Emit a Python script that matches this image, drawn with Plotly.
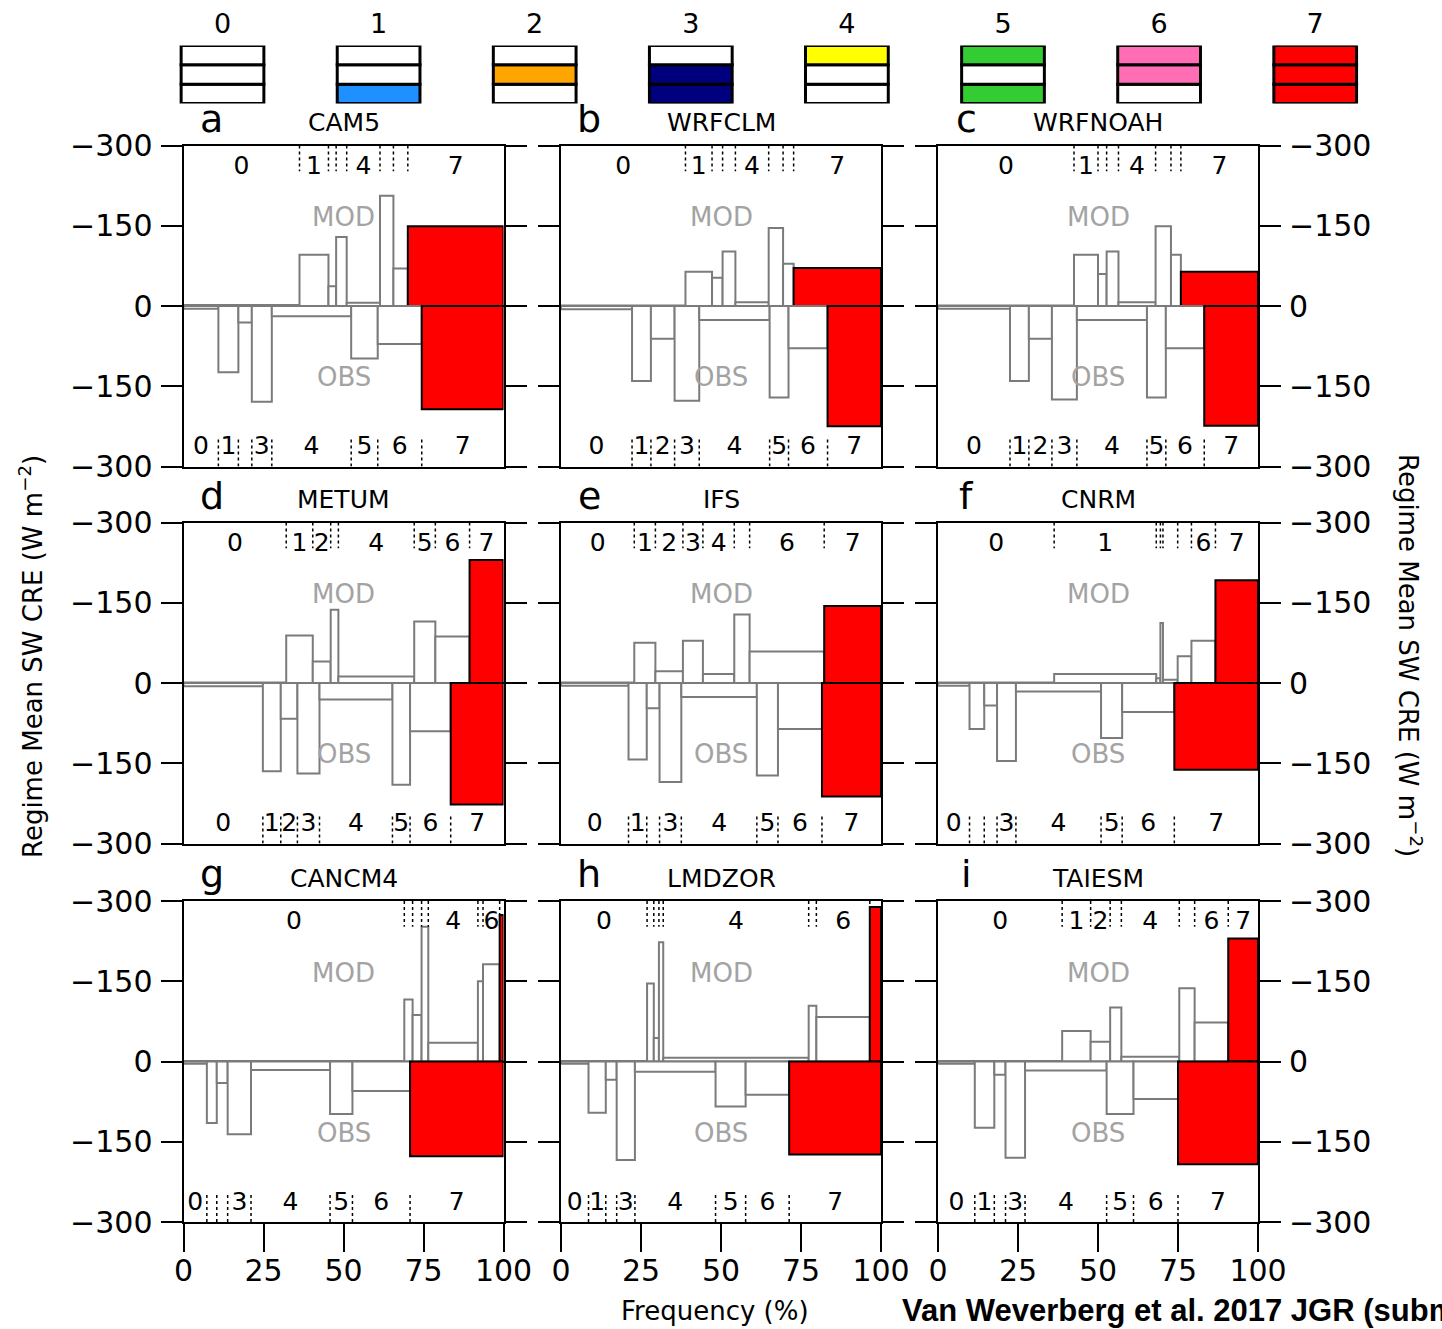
import numpy as np
import plotly.graph_objects as go

W, H = 1442, 1329
FONT = "DejaVu Sans"

models = ["CAM5", "WRFCLM", "WRFNOAH", "METUM", "IFS", "CNRM", "CANCM4", "LMDZOR", "TAIESM"]
letters = ["a", "b", "c", "d", "e", "f", "g", "h", "i"]
regimes = [0, 1, 2, 3, 4, 5, 6, 7]

# Regime frequency of occurrence (%) and regime-mean SW CRE (W m-2), regimes 0..7
cam5_mod_freq = [36.25, 9.05, 2.4, 3.3, 10.4, 4.2, 4.5, 29.9]
cam5_mod_cre = [-2, -96, -37, -129, -6, -206, -70, -149]
cam5_obs_freq = [10.9, 6.25, 4.2, 6.25, 24.8, 8.3, 13.75, 25.55]
cam5_obs_cre = [-5, -124, -31, -179, -19, -98, -71, -193]

wrfclm_mod_freq = [38.9, 8.3, 3.3, 4.0, 10.4, 4.5, 3.3, 27.3]
wrfclm_mod_cre = [-1, -64, -53, -102, -7, -146, -79, -71]
wrfclm_obs_freq = [22.2, 5.9, 7.4, 7.7, 22.0, 5.9, 12.2, 16.7]
wrfclm_obs_cre = [-6, -140, -61, -177, -26, -171, -79, -225]

wrfnoah_mod_freq = [42.5, 7.5, 2.7, 3.7, 11.6, 4.8, 3.1, 24.1]
wrfnoah_mod_cre = [-1, -96, -60, -102, -7, -149, -96, -64]
wrfnoah_obs_freq = [22.5, 5.9, 7.2, 7.8, 21.9, 5.9, 12.0, 16.8]
wrfnoah_obs_cre = [-5, -140, -61, -175, -26, -171, -79, -224]

metum_mod_freq = [32.1, 8.3, 5.6, 2.4, 23.7, 6.6, 10.7, 10.6]
metum_mod_cre = [-1, -89, -40, -137, -12, -115, -87, -230]
metum_obs_freq = [24.8, 5.6, 5.2, 6.9, 22.8, 5.5, 12.7, 16.5]
metum_obs_cre = [-6, -165, -67, -169, -31, -190, -90, -227]

ifs_mod_freq = [22.9, 6.6, 8.6, 6.25, 9.8, 4.8, 23.3, 17.75]
ifs_mod_cre = [-1, -75, -22, -79, -17, -128, -59, -144]
ifs_obs_freq = [21.1, 5.7, 4.0, 6.8, 23.6, 6.6, 13.75, 18.45]
ifs_obs_cre = [-5, -143, -47, -185, -26, -173, -86, -212]

cnrm_mod_freq = [36.3, 31.9, 1.3, 0.8, 4.6, 4.3, 7.5, 13.3]
cnrm_mod_cre = [-1, -17, -9, -112, -6, -50, -79, -192]
cnrm_obs_freq = [9.85, 4.6, 4.0, 5.9, 26.6, 6.6, 16.3, 26.15]
cnrm_obs_cre = [-5, -86, -42, -146, -16, -103, -54, -162]

cancm4_mod_freq = [69.0, 2.6, 2.8, 2.1, 15.5, 1.6, 5.2, 1.2]
cancm4_mod_cre = [-1, -116, -87, -252, -35, -150, -182, -274]
cancm4_obs_freq = [7.3, 3.1, 3.4, 7.3, 24.7, 7.0, 18.0, 29.2]
cancm4_obs_cre = [-4, -115, -40, -136, -16, -98, -55, -177]

lmdzor_mod_freq = [26.9, 2.1, 1.6, 1.35, 45.45, 2.4, 16.7, 3.5]
lmdzor_mod_cre = [-1, -146, -44, -223, -7, -104, -83, -289]
lmdzor_obs_freq = [8.6, 5.4, 3.4, 5.7, 25.2, 9.4, 13.6, 28.7]
lmdzor_obs_cre = [-4, -96, -34, -184, -19, -84, -62, -174]

taiesm_mod_freq = [38.8, 8.9, 6.1, 3.5, 18.1, 4.8, 10.5, 9.3]
taiesm_mod_cre = [-1, -57, -37, -101, -9, -137, -73, -230]
taiesm_obs_freq = [11.5, 6.1, 3.5, 6.1, 25.5, 8.4, 13.9, 25.0]
taiesm_obs_cre = [-4, -124, -25, -180, -17, -98, -70, -192]

panels = [
    (cam5_mod_freq, cam5_mod_cre, cam5_obs_freq, cam5_obs_cre),
    (wrfclm_mod_freq, wrfclm_mod_cre, wrfclm_obs_freq, wrfclm_obs_cre),
    (wrfnoah_mod_freq, wrfnoah_mod_cre, wrfnoah_obs_freq, wrfnoah_obs_cre),
    (metum_mod_freq, metum_mod_cre, metum_obs_freq, metum_obs_cre),
    (ifs_mod_freq, ifs_mod_cre, ifs_obs_freq, ifs_obs_cre),
    (cnrm_mod_freq, cnrm_mod_cre, cnrm_obs_freq, cnrm_obs_cre),
    (cancm4_mod_freq, cancm4_mod_cre, cancm4_obs_freq, cancm4_obs_cre),
    (lmdzor_mod_freq, lmdzor_mod_cre, lmdzor_obs_freq, lmdzor_obs_cre),
    (taiesm_mod_freq, taiesm_mod_cre, taiesm_obs_freq, taiesm_obs_cre),
]

# Legend stripes (high / middle / low cloud layers) per regime
legend_high = ["white", "white", "white", "white", "#ffff00", "#33cc33", "#ff6eb4", "#ff0000"]
legend_mid = ["white", "white", "#ffa500", "#00007f", "white", "white", "#ff6eb4", "#ff0000"]
legend_low = ["white", "#1e90ff", "white", "#00007f", "white", "#33cc33", "white", "#ff0000"]

freq_ticks = [0, 25, 50, 75, 100]
cre_ticks = [-300, -150, 0, 150, 300]
cre_ticktext = ["\u2212300", "\u2212150", "0", "\u2212150", "\u2212300"]

GRAY = "#7b7b7b"
RED = "#ff0000"
LABEL_MIN = 5.0

col_px = [(183.5, 503.5), (561.0, 881.0), (938.0, 1258.0)]
row_px = [(145.5, 466.5), (522.5, 843.5), (901.0, 1222.0)]


def fx(px):
    return px / W


def fy(px):
    return 1 - px / H


fig = go.Figure()
annotations = []

for k in range(9):
    r, c = divmod(k, 3)
    key = "" if k == 0 else str(k + 1)
    xa, ya = "x" + key, "y" + key
    mf, mc, of, oc = panels[k]
    for freq, cre, sign in ((mf, mc, -1), (of, oc, 1)):
        freq = np.array(freq, dtype=float)
        cre = np.array(cre, dtype=float)
        edges = np.concatenate([[0.0], np.cumsum(freq)])
        centers = (edges[:-1] + edges[1:]) / 2
        heights = sign * cre
        fill = [RED if g == 7 else "white" for g in regimes]
        lcol = ["black" if g == 7 else GRAY for g in regimes]
        fig.add_trace(go.Bar(
            x=centers, y=heights, width=freq, base=0,
            marker=dict(color=fill, opacity=1, line=dict(color=lcol, width=2)),
            xaxis=xa, yaxis=ya, showlegend=False, hoverinfo="skip"))
        inner = edges[1:-1]
        if sign == -1:
            y0, y1, ylab = 300, 252, 259
        else:
            y0, y1, ylab = -300, -246, -265
        xs, ys = [], []
        for b in inner:
            xs += [b, b, None]
            ys += [y0, y1, None]
        fig.add_trace(go.Scatter(
            x=xs, y=ys, mode="lines",
            line=dict(color="black", width=1.5, dash="dot"),
            xaxis=xa, yaxis=ya, showlegend=False, hoverinfo="skip"))
        lab = [g for g in regimes if freq[g] >= LABEL_MIN]
        fig.add_trace(go.Scatter(
            x=[centers[g] for g in lab], y=[ylab] * len(lab), mode="text",
            text=[str(g) for g in lab],
            textfont=dict(size=25, color="black", family=FONT),
            textposition="middle center", cliponaxis=False,
            xaxis=xa, yaxis=ya, showlegend=False, hoverinfo="skip"))

    annotations.append(dict(text="MOD", x=50, y=166, xref=xa, yref=ya, showarrow=False,
                            font=dict(size=26, color="#a3a3a3", family=FONT)))
    annotations.append(dict(text="OBS", x=50, y=-133, xref=xa, yref=ya, showarrow=False,
                            font=dict(size=26, color="#a3a3a3", family=FONT)))

    x0p, x1p = col_px[c]
    y0p, y1p = row_px[r]
    annotations.append(dict(text=models[k], x=fx((x0p + x1p) / 2), y=fy(y0p - 23),
                            xref="paper", yref="paper", showarrow=False, xanchor="center",
                            yanchor="middle", font=dict(size=25, color="black", family=FONT)))
    annotations.append(dict(text=letters[k], x=fx(x0p + 28), y=fy(y0p - 27),
                            xref="paper", yref="paper", showarrow=False, xanchor="center",
                            yanchor="middle", font=dict(size=38, color="black", family=FONT)))

    xaxis = dict(domain=[fx(x0p), fx(x1p)], range=[0, 100], anchor=ya,
                 showline=True, mirror=True, linecolor="black", linewidth=2,
                 showgrid=False, zeroline=False, fixedrange=True, automargin=False)
    if r == 2:
        xaxis.update(ticks="outside", ticklen=28, tickwidth=2, tickcolor="black",
                     tickvals=freq_ticks, ticktext=[str(v) for v in freq_ticks],
                     showticklabels=True, ticklabelstandoff=-7,
                     tickfont=dict(size=30, family=FONT, color="black"))
    else:
        xaxis.update(ticks="", showticklabels=False)
    yaxis = dict(domain=[fy(y1p), fy(y0p)], range=[-300, 300], anchor=xa,
                 showline=True, mirror="ticks", linecolor="black", linewidth=2,
                 ticks="outside", ticklen=21, tickwidth=2, tickcolor="black",
                 tickvals=cre_ticks, ticktext=cre_ticktext,
                 tickfont=dict(size=30, family=FONT, color="black"),
                 ticklabelstandoff=2, automargin=False,
                 showgrid=False, zeroline=True, zerolinecolor="black", zerolinewidth=1.5,
                 fixedrange=True)
    if c == 0:
        yaxis.update(side="left", showticklabels=True)
    elif c == 2:
        yaxis.update(side="right", showticklabels=True)
    else:
        yaxis.update(showticklabels=False)
    fig.layout["xaxis" + key] = xaxis
    fig.layout["yaxis" + key] = yaxis

# Regime legend boxes on top
for base, cols in ((0, legend_low), (1, legend_mid), (2, legend_high)):
    fig.add_trace(go.Bar(
        x=regimes, y=[1] * 8, base=[base] * 8, width=0.53,
        marker=dict(color=cols, opacity=1, line=dict(color="black", width=3)),
        xaxis="x10", yaxis="y10", showlegend=False, hoverinfo="skip"))

fig.layout["xaxis10"] = dict(domain=[fx(144.45), fx(1393.25)], range=[-0.5, 7.5], anchor="y10",
                             side="top", tickvals=regimes, ticktext=[str(g) for g in regimes],
                             ticks="", showline=False, showgrid=False, zeroline=False,
                             ticklabelstandoff=6, automargin=False,
                             tickfont=dict(size=27, family=FONT, color="black"), fixedrange=True)
fig.layout["yaxis10"] = dict(domain=[fy(103.5), fy(45.5)], range=[0, 3], anchor="x10",
                             visible=False, fixedrange=True, automargin=False)

ytitle = "Regime Mean SW CRE (W m<sup>\u22122</sup>)"
annotations += [
    dict(text=ytitle, x=fx(31), y=fy(657), xref="paper", yref="paper", showarrow=False,
         textangle=-90, xanchor="center", yanchor="middle",
         font=dict(size=26, color="black", family=FONT)),
    dict(text=ytitle, x=fx(1410), y=fy(655), xref="paper", yref="paper", showarrow=False,
         textangle=90, xanchor="center", yanchor="middle",
         font=dict(size=26, color="black", family=FONT)),
    dict(text="Frequency (%)", x=fx(715), y=fy(1311), xref="paper", yref="paper",
         showarrow=False, xanchor="center", yanchor="middle",
         font=dict(size=26, color="black", family=FONT)),
    dict(text="<b>Van Weverberg et al. 2017 JGR (submitted)</b>", x=fx(900), y=fy(1310),
         xref="paper", yref="paper", showarrow=False, xanchor="left", yanchor="middle",
         font=dict(size=31, color="black", family="Liberation Sans")),
]

fig.update_layout(
    width=W, height=H, margin=dict(l=0, r=0, t=0, b=0, autoexpand=False),
    paper_bgcolor="white", plot_bgcolor="white",
    barmode="overlay", showlegend=False,
    annotations=annotations,
    font=dict(family=FONT, color="black"),
)

fig.write_html("out.html")
